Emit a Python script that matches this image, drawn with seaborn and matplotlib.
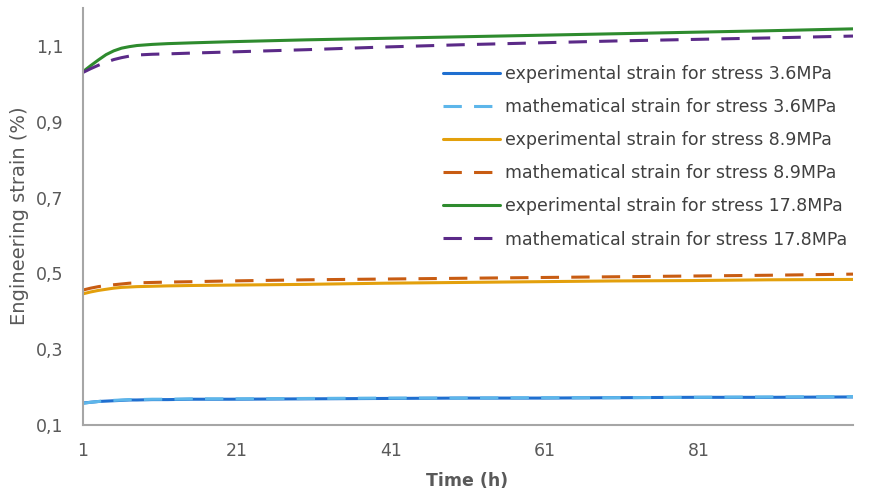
import numpy as np
import pandas as pd
import matplotlib
matplotlib.use("Agg")
import matplotlib.pyplot as plt
import seaborn as sns

sns.set_style("white")
plt.rcParams['font.family'] = ['DejaVu Sans']

time_h = [1, 2, 3, 4, 5, 6, 7, 8, 10, 12, 15, 20, 30, 40, 50, 60, 70, 80, 90, 101]

exp_36 = [0.158, 0.160, 0.162, 0.163, 0.164, 0.165, 0.166, 0.166, 0.167, 0.167, 0.168, 0.168, 0.169, 0.170, 0.171, 0.171, 0.172, 0.173, 0.173, 0.174]
math_36 = [0.157, 0.160, 0.162, 0.164, 0.165, 0.166, 0.167, 0.167, 0.168, 0.168, 0.169, 0.169, 0.170, 0.171, 0.171, 0.172, 0.172, 0.173, 0.174, 0.175]
exp_89 = [0.446, 0.451, 0.455, 0.458, 0.461, 0.463, 0.464, 0.465, 0.466, 0.467, 0.468, 0.469, 0.471, 0.474, 0.476, 0.478, 0.480, 0.481, 0.483, 0.484]
math_89 = [0.456, 0.461, 0.465, 0.468, 0.470, 0.472, 0.474, 0.475, 0.476, 0.477, 0.478, 0.480, 0.483, 0.485, 0.487, 0.489, 0.491, 0.493, 0.495, 0.498]
exp_178 = [1.032, 1.048, 1.063, 1.077, 1.087, 1.094, 1.098, 1.101, 1.104, 1.106, 1.108, 1.111, 1.116, 1.120, 1.124, 1.128, 1.132, 1.136, 1.140, 1.145]
math_178 = [1.030, 1.040, 1.049, 1.057, 1.064, 1.069, 1.073, 1.076, 1.078, 1.079, 1.081, 1.084, 1.090, 1.097, 1.103, 1.108, 1.113, 1.117, 1.121, 1.126]

labels = [
    "experimental strain for stress 3.6MPa",
    "mathematical strain for stress 3.6MPa",
    "experimental strain for stress 8.9MPa",
    "mathematical strain for stress 8.9MPa",
    "experimental strain for stress 17.8MPa",
    "mathematical strain for stress 17.8MPa",
]
series = [exp_36, math_36, exp_89, math_89, exp_178, math_178]
colors = ["#1F6FD0", "#5DB6EA", "#E3A00C", "#C85C12", "#2E8B2E", "#5B2A88"]
dashed = [False, True, False, True, False, True]

fig = plt.figure(figsize=(8.78, 4.94), dpi=100)
ax = fig.add_axes([83 / 878, 1 - 425 / 494, (853 - 83) / 878, (425 - 8) / 494])

for lab, vals, col, d in zip(labels, series, colors, dashed):
    df = pd.DataFrame({"t": time_h, "v": vals})
    sns.lineplot(data=df, x="t", y="v", ax=ax, color=col, linewidth=2.2, label=lab)
    if d:
        ax.lines[-1].set_dashes((6.0, 4.0))
        ax.lines[-1].set_dash_capstyle("butt")

ax.set_xlim(1, 101)
ax.set_ylim(0.1, 1.2)
ax.set_xticks([1, 21, 41, 61, 81])
ax.set_xticklabels(["1", "21", "41", "61", "81"])
yt = [0.1, 0.3, 0.5, 0.7, 0.9, 1.1]
ax.set_yticks(yt)
ax.set_yticklabels([f"{v:.1f}".replace(".", ",") for v in yt])
ax.tick_params(axis="both", colors="#595959", labelsize=12.5, length=0)
ax.tick_params(axis="y", pad=14)
ax.tick_params(axis="x", pad=12)
for lab in ax.get_xticklabels() + ax.get_yticklabels():
    lab.set_color("#595959")

for s in ["top", "right"]:
    ax.spines[s].set_visible(False)
for s in ["left", "bottom"]:
    ax.spines[s].set_color("#A6A6A6")
    ax.spines[s].set_linewidth(1.5)

ax.set_xlabel("Time (h)", fontsize=12.5, fontweight="bold", color="#595959")
ax.set_ylabel("Engineering strain (%)", fontsize=14, color="#595959")
ax.xaxis.set_label_coords((467 - 83) / 770, -(472 - 425) / 417)
ax.yaxis.set_label_coords(-(83 - 29) / 770, (425 - 216) / 417)

handles, labs = ax.get_legend_handles_labels()
leg = ax.legend(handles, labs, loc="upper left", bbox_to_anchor=(443 / 878, 1 - 65 / 494),
                bbox_transform=fig.transFigure,
                frameon=False, fontsize=12.5, handlelength=3.3, handletextpad=0.3,
                labelspacing=0.87, borderaxespad=0, borderpad=0)
for t in leg.get_texts():
    t.set_color("#404040")

fig.savefig("out.png", dpi=100)
